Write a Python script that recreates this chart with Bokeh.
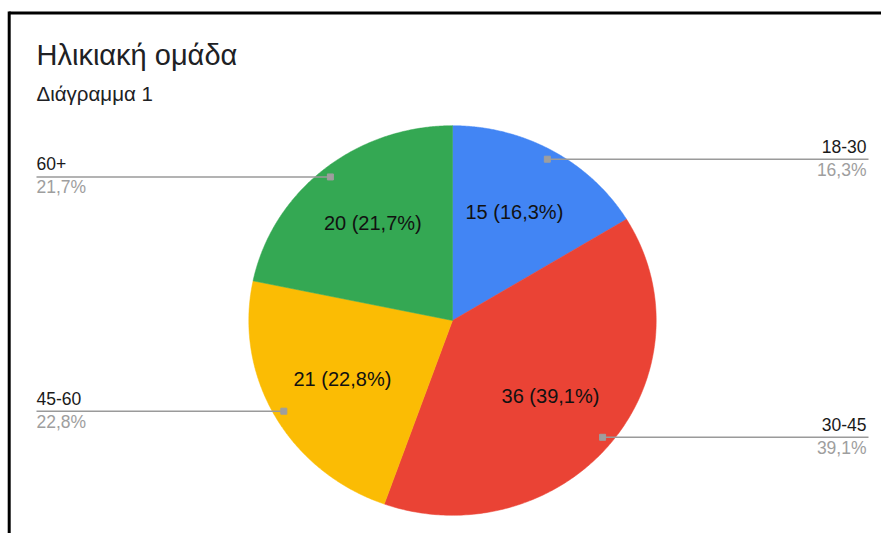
import numpy as np
from bokeh.plotting import figure
from bokeh.models import Range1d
from bokeh.core.properties import value
from bokeh.embed import file_html
from bokeh.resources import INLINE

# ---- data ----
categories = ["18-30", "30-45", "45-60", "60+"]
counts = [15, 36, 21, 20]
colors = ["#4285F4", "#EA4335", "#FBBC04", "#34A853"]
title_text = "Ηλικιακή ομάδα"
subtitle_text = "Διάγραμμα 1"

FONT = "Liberation Sans"
W, H = 881, 533
OX, OY = 0, 0  # page offset of the canvas as photographed

# layout in page pixels (pie centre and radii)
CX, CY, RX, RY = 452.0, 320.0, 203.7, 194.8


def dx(px):
    return (px - CX) / RX


def dy(py):
    return (CY - py) / RY


def base(py, size):
    # alphabetic baseline correction observed in the SVG renderer
    return dy(py - 0.4 * size)


p = figure(width=W, height=H, output_backend="svg", toolbar_location=None,
           x_range=Range1d(dx(OX), dx(OX + W)), y_range=Range1d(dy(OY + H), dy(OY)),
           min_border=0)
p.axis.visible = False
p.grid.visible = False
p.outline_line_color = None
p.background_fill_color = "white"
p.border_fill_color = "white"

total = float(sum(counts))
fracs = [c / total for c in counts]
starts = np.cumsum([0] + fracs[:-1])

# slices (unit circle in data space; clockwise from top)
xs, ys = [], []
for s, f in zip(starts, fracs):
    t = np.linspace(s, s + f, 200) * 2 * np.pi
    xs.append([0.0] + list(np.sin(t)) + [0.0])
    ys.append([0.0] + list(np.cos(t)) + [0.0])
p.patches(xs, ys, fill_color=colors, line_color=colors, line_width=0.5)

# in-slice labels
for s, f, c in zip(starts, fracs, counts):
    m = (s + f / 2) * 2 * np.pi
    pct = f"{f * 100:.1f}".replace(".", ",")
    p.text([0.62 * np.sin(m)], [0.63 * np.cos(m) + 0.01], text=[f"{c} ({pct}%)"],
           text_align="center", text_baseline="middle",
           text_font=value(FONT), text_font_size="20px", text_color="#111111")

# leader lines and side labels
LS = 17.5
for s, f, cat in zip(starts, fracs, categories):
    m = (s + f / 2) * 2 * np.pi
    x0, y0 = 0.95 * np.sin(m), 0.95 * np.cos(m)
    pct = f"{f * 100:.1f}".replace(".", ",") + "%"
    if x0 > 0:
        xe, align = dx(868), "right"
        xt = dx(866)
    else:
        xe, align = dx(36), "left"
        xt = dx(36)
    p.line([x0, xe], [y0, y0], line_color="#9a9a9a", line_width=1.5)
    p.scatter([x0], [y0], marker="square", size=6, fill_color="#9e9e9e",
              line_color="#9e9e9e")
    ypage = CY - y0 * RY
    p.text([xt], [base(ypage - 6, LS)], text=[cat], text_align=align,
           text_baseline="alphabetic", text_font=value(FONT),
           text_font_size=f"{LS}px", text_color="#1a1a1a")
    p.text([xt], [base(ypage + 17.5, LS)], text=[pct], text_align=align,
           text_baseline="alphabetic", text_font=value(FONT),
           text_font_size=f"{LS}px", text_color="#9e9e9e")

# title and subtitle
p.text([dx(36)], [base(66, 29)], text=[title_text], text_align="left",
       text_baseline="alphabetic", text_font=value(FONT),
       text_font_size="29px", text_color="#202124")
p.text([dx(36)], [base(101.5, 20.5)], text=[subtitle_text], text_align="left",
       text_baseline="alphabetic", text_font=value(FONT),
       text_font_size="20.5px", text_color="#202124")

# frame border (top and left)
p.line([dx(8.7), dx(900)], [dy(12.5), dy(12.5)], line_color="black", line_width=3)
p.line([dx(8.7), dx(8.7)], [dy(11), dy(600)], line_color="black", line_width=3)

open("out.html", "w").write(file_html(p, INLINE))
